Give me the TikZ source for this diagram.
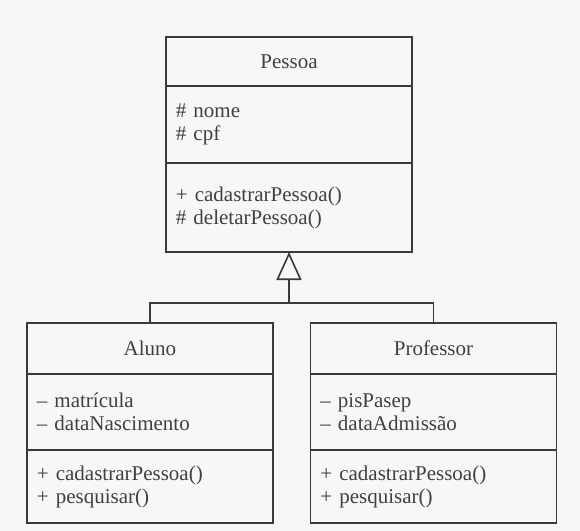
\documentclass[tikz,border=0pt]{standalone}
\usepackage{fontspec}
\setmainfont{Liberation Serif}
\usepackage{tikz}
\usetikzlibrary{arrows.meta, positioning}
\definecolor{linegray}{HTML}{3A3A3A}
\definecolor{txtgray}{HTML}{404040}

\begin{document}
\begin{tikzpicture}[
  x=0.5pt, y=-0.5pt,
  head/.style={draw=linegray, line width=0.8pt, outer sep=0pt, minimum width=123pt, text width=113pt, inner xsep=5pt, align=center, text=txtgray, font=\fontsize{10.5}{11.5}\selectfont},
  part/.style={head, align=left},
  gen/.style={draw=linegray, line width=0.8pt}
]
\fill[white!97!black] (0,0) rectangle (580,531);
\useasboundingbox (0,0) rectangle (580,531);
% superclasse
\node[head, minimum height=24.5pt, anchor=north] (pessoa) at (289,37) {Pessoa};
\node[part, minimum height=38.5pt, below=0pt of pessoa] (pessoaAtr) {\# nome\\\# cpf};
\node[part, minimum height=44.5pt, below=0pt of pessoaAtr] (pessoaMet) {+ cadastrarPessoa()\\\# deletarPessoa()};
% subclasses
\node[head, minimum height=25.5pt, anchor=north] (aluno) at (150,323) {Aluno};
\node[part, minimum height=38pt, below=0pt of aluno] (alunoAtr) {\textendash{} matrícula\\\textendash{} dataNascimento};
\node[part, minimum height=36.5pt, below=0pt of alunoAtr] (alunoMet) {+ cadastrarPessoa()\\+ pesquisar()};
\node[head, minimum height=25.5pt, anchor=north] (professor) at (433.5,323) {Professor};
\node[part, minimum height=38pt, below=0pt of professor] (profAtr) {\textendash{} pisPasep\\\textendash{} dataAdmissão};
\node[part, minimum height=36.5pt, below=0pt of profAtr] (profMet) {+ cadastrarPessoa()\\+ pesquisar()};
% heranca
\coordinate[below=25.5pt of pessoaMet] (split);
\draw[gen] (aluno.north) |- (split) -| (professor.north);
\draw[gen, -{Triangle[open, length=14pt, width=12.5pt]}] (split) -- (pessoaMet.south);
\end{tikzpicture}
\end{document}
